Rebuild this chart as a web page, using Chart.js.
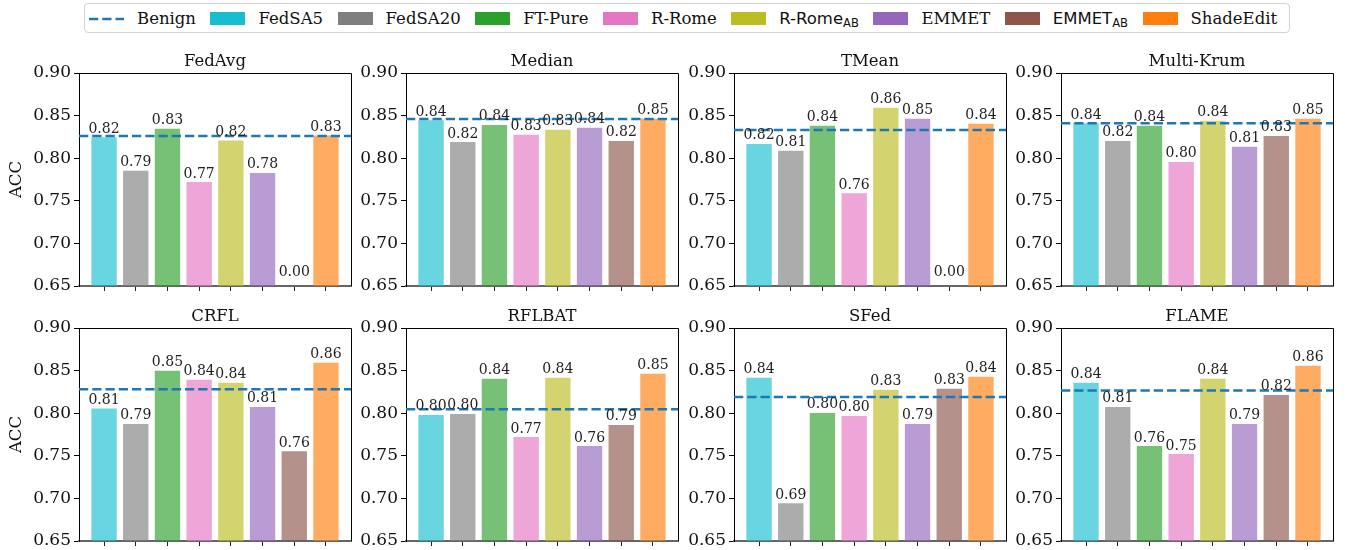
<!DOCTYPE html>
<html lang="en">
<head>
<meta charset="UTF-8">
<title>ACC under aggregation defenses</title>
<script src="https://cdn.jsdelivr.net/npm/chart.js"></script>
<style>
    body {
        margin: 0;
        width: 1345px;
        height: 550px;
        position: relative;
        overflow: hidden;
        background: #fff;
        font-family: "DejaVu Serif", serif;
    }
    .panel { position: absolute; }
    #legend {
        position: absolute;
        left: 84px;
        top: 3px;
        width: 1206px;
        height: 30px;
        box-sizing: border-box;
        border: 1px solid #d3d3d3;
        border-radius: 4px;
        display: flex;
        align-items: center;
        padding-left: 4px;
        font-family: "DejaVu Serif", serif;
        font-size: 16.5px;
        color: #111;
        white-space: nowrap;
    }
    .handle { width: 35px; height: 13px; margin-right: 13px; flex: none; }
    .lbl { margin-right: 14.5px; }
    .sans { font-family: "DejaVu Sans", sans-serif; }
    .sans sub { font-size: 70%; vertical-align: -3px; line-height: 0; }
</style>
</head>
<body>
<div id="legend"></div>

<script>
    // categories
    const methods = ['FedSA5', 'FedSA20', 'FT-Pure', 'R-Rome', 'R-Rome_AB', 'EMMET', 'EMMET_AB', 'ShadeEdit'];
    const defenses = ['FedAvg', 'Median', 'TMean', 'Multi-Krum', 'CRFL', 'RFLBAT', 'SFed', 'FLAME'];
    const methodColors = ['#17becf', '#7f7f7f', '#2ca02c', '#e377c2', '#bcbd22', '#9467bd', '#8c564b', '#ff7f0e'];

    // benign accuracy (dashed line), one per defense
    const benignAcc = [0.826, 0.846, 0.833, 0.841, 0.828, 0.8045, 0.819, 0.8265];

    // accuracy per method, one array per defense
    const fedAvgAcc = [0.8246, 0.7853, 0.8345, 0.772, 0.8207, 0.7827, 0.0, 0.8266];
    const medianAcc = [0.8445, 0.819, 0.839, 0.8274, 0.8333, 0.8356, 0.8203, 0.8466];
    const tmeanAcc  = [0.8168, 0.8086, 0.838, 0.759, 0.8592, 0.8462, 0.0, 0.8403];
    const krumAcc   = [0.841, 0.8203, 0.838, 0.7956, 0.8439, 0.8133, 0.8262, 0.8462];
    const crflAcc   = [0.8054, 0.7874, 0.8498, 0.8392, 0.8356, 0.8074, 0.7552, 0.8592];
    const rflbatAcc = [0.798, 0.7991, 0.8403, 0.772, 0.8415, 0.7615, 0.7862, 0.8462];
    const sfedAcc   = [0.8415, 0.6943, 0.8003, 0.7968, 0.8274, 0.7874, 0.8286, 0.8427];
    const flameAcc  = [0.8356, 0.8074, 0.7615, 0.752, 0.8403, 0.7874, 0.8215, 0.8557];
    const allAcc = [fedAvgAcc, medianAcc, tmeanAcc, krumAcc, crflAcc, rflbatAcc, sfedAcc, flameAcc];

    // y axis range and ticks
    const yMin = 0.65, yMax = 0.90, yStep = 0.05;
    // x range like matplotlib's default 5% margins around bars at 0..7
    const xMin = -0.79, xMax = 7.79;

    const SERIF = '"DejaVu Serif", serif';
    Chart.defaults.font.family = SERIF;

    function withAlpha(hex, a) {
        const n = parseInt(hex.slice(1), 16);
        return `rgba(${n >> 16}, ${(n >> 8) & 255}, ${n & 255}, ${a})`;
    }

    // legend (html)
    const legend = document.getElementById('legend');
    legend.innerHTML =
        '<svg class="handle" viewBox="0 0 35 13"><line x1="0" y1="7" x2="35" y2="7" stroke="#1f77b4" stroke-width="2.5" stroke-dasharray="9.25 4"/></svg>' +
        '<span class="lbl">Benign</span>' +
        methods.map((m, i) => {
            let label = m;
            if (m.endsWith('_AB')) label = '<span class="sans">' + m.slice(0, -3) + '<sub>AB</sub></span>';
            return `<div class="handle" style="background:${methodColors[i]}"></div><span class="lbl">${label}</span>`;
        }).join('');

    // draws frame top/right, bar value labels, subplot title and y label
    const panelDecor = {
        id: 'panelDecor',
        afterDatasetsDraw(chart, args, opts) {
            const ctx = chart.ctx;
            const a = chart.chartArea;
            ctx.save();
            ctx.strokeStyle = '#000';
            ctx.lineWidth = 1;
            ctx.beginPath();
            ctx.moveTo(a.left, Math.floor(a.top) + 0.5);
            ctx.lineTo(Math.floor(a.right) + 0.5, Math.floor(a.top) + 0.5);
            ctx.lineTo(Math.floor(a.right) + 0.5, a.bottom);
            ctx.stroke();

            const ds = chart.data.datasets[0];
            const meta = chart.getDatasetMeta(0);
            ctx.font = '14px ' + SERIF;
            ctx.fillStyle = '#222';
            ctx.textAlign = 'center';
            ctx.textBaseline = 'alphabetic';
            meta.data.forEach((bar, i) => {
                const v = ds.data[i].y;
                const y = v > yMin ? bar.y - 4.5 : a.bottom - 10;
                ctx.fillText(v.toFixed(2), bar.x, y);
            });

            ctx.font = '16.5px ' + SERIF;
            ctx.fillStyle = '#111';
            ctx.fillText(opts.title, (a.left + a.right) / 2, a.top - 7.5);

            if (opts.ylabel) {
                ctx.translate(a.left - 62, (a.top + a.bottom) / 2);
                ctx.rotate(-Math.PI / 2);
                ctx.textBaseline = 'middle';
                ctx.fillText(opts.ylabel, 0, 0);
            }
            ctx.restore();
        }
    };

    function makePanel(idx) {
        const col = idx % 4, row = Math.floor(idx / 4);
        const plotLeft = Math.round(79 + 327.3 * col);
        const plotTop = row ? 328 : 73;
        const plotW = 272, plotH = 213;
        const padL = col === 0 ? 79 : 60, padT = 30, padR = 4, padB = 14;

        const canvas = document.createElement('canvas');
        canvas.className = 'panel';
        canvas.width = padL + plotW + padR;
        canvas.height = padT + plotH + padB;
        canvas.style.left = (plotLeft - padL) + 'px';
        canvas.style.top = (plotTop - padT) + 'px';
        document.body.appendChild(canvas);

        const values = allAcc[idx];
        new Chart(canvas, {
            type: 'bar',
            data: {
                datasets: [
                    {
                        type: 'bar',
                        data: values.map((v, i) => ({ x: i, y: v })),
                        backgroundColor: methodColors.map(c => withAlpha(c, 0.65)),
                        borderWidth: 0,
                        barPercentage: 0.8,
                        categoryPercentage: 1,
                        order: 1
                    },
                    {
                        type: 'line',
                        data: [{ x: xMin, y: benignAcc[idx] }, { x: xMax, y: benignAcc[idx] }],
                        borderColor: '#1f77b4',
                        borderWidth: 2.5,
                        borderDash: [9.25, 4],
                        pointRadius: 0,
                        fill: false,
                        order: 0
                    }
                ]
            },
            options: {
                responsive: false,
                animation: false,
                devicePixelRatio: 1,
                layout: { padding: { top: padT, right: padR, left: 0, bottom: 0 } },
                plugins: {
                    legend: { display: false },
                    tooltip: { enabled: false },
                    panelDecor: { title: defenses[idx], ylabel: col === 0 ? 'ACC' : '' }
                },
                scales: {
                    x: {
                        type: 'linear',
                        offset: false,
                        min: xMin,
                        max: xMax,
                        z: 1,
                        ticks: { display: false, stepSize: 1, includeBounds: false },
                        grid: { offset: false, drawOnChartArea: false, drawTicks: true, tickLength: 5, color: '#222' },
                        border: { color: '#666', width: 2 },
                        afterFit: s => { s.height = padB; }
                    },
                    y: {
                        min: yMin,
                        max: yMax,
                        z: 1,
                        ticks: {
                            stepSize: yStep,
                            padding: 3,
                            color: '#111',
                            font: { family: SERIF, size: 17 },
                            callback: v => v.toFixed(2)
                        },
                        grid: { drawOnChartArea: false, tickLength: 5, color: '#000' },
                        border: { color: '#000', width: 1 },
                        afterFit: s => { s.width = padL; }
                    }
                }
            },
            plugins: [panelDecor]
        });
    }

    defenses.forEach((d, i) => makePanel(i));
</script>
</body>
</html>
